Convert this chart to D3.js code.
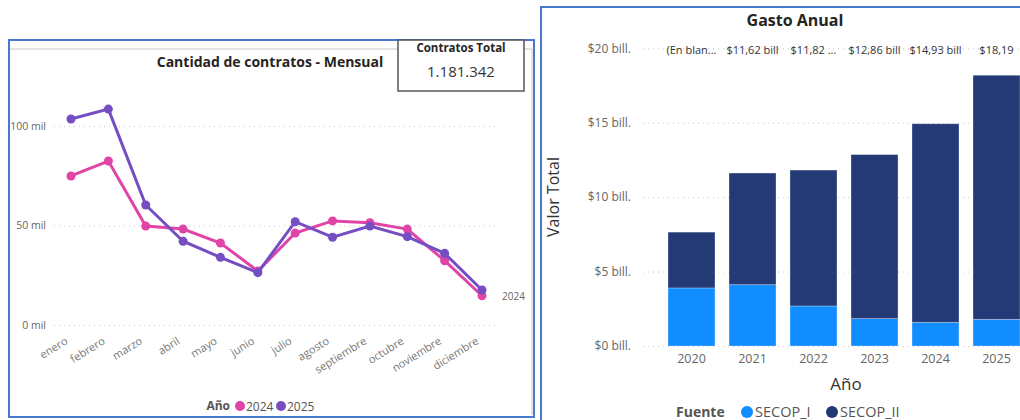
<!DOCTYPE html>
<html>
<head>
<meta charset="utf-8">
<script src="https://cdn.jsdelivr.net/npm/d3@7"></script>
<style>
  body { margin: 0; background: #fff; }
  svg text { font-family: "Open Sans", "Noto Sans", sans-serif; }
</style>
</head>
<body>
<div id="container"></div>
<script>
// monthly contracts
let months = ["enero", "febrero", "marzo", "abril", "mayo", "junio", "julio", "agosto", "septiembre", "octubre", "noviembre", "diciembre"];
let years = ["2024", "2025"];
let contratos2024 = [74900, 82400, 49700, 48200, 41200, 27100, 46200, 52300, 51400, 48200, 32300, 14700];
let contratos2025 = [103500, 108500, 60300, 42100, 34000, 26300, 51900, 44100, 49700, 44400, 36000, 17600];
let yTicksLeft = [0, 50000, 100000];

// annual spending (bill.)
let anios = ["2020", "2021", "2022", "2023", "2024", "2025"];
let fuentes = ["SECOP_I", "SECOP_II"];
let secop1 = [3.90, 4.12, 2.69, 1.84, 1.59, 1.79];
let secop2 = [3.75, 7.50, 9.13, 11.02, 13.34, 16.40];
let totalLabels = ["(En blan...", "$11,62 bill", "$11,82 ...", "$12,86 bill", "$14,93 bill", "$18,19"];
let yTicksRight = [0, 5, 10, 15, 20];

let colorMap = {
  "2024": "#E044A7",
  "2025": "#744EC2",
  "SECOP_I": "#118DFF",
  "SECOP_II": "#233A77"
};

let w = 1020;
let h = 420;

let viz = d3.select("#container")
  .append("svg")
  .attr("width", w)
  .attr("height", h)
  .style("background-color", "#fff");

// ---------- left panel ----------
viz.append("rect")
  .attr("x", 9).attr("y", 40).attr("width", 525).attr("height", 377)
  .attr("fill", "#fff").attr("stroke", "#4A78CF").attr("stroke-width", 2);
viz.append("line").attr("x1", 10).attr("x2", 532).attr("y1", 49).attr("y2", 49)
  .attr("stroke", "#c8c8c8");
viz.append("line").attr("x1", 532).attr("x2", 532).attr("y1", 49).attr("y2", 415)
  .attr("stroke", "#c8c8c8");

viz.append("text")
  .attr("x", 270).attr("y", 67)
  .attr("text-anchor", "middle")
  .attr("font-size", 14).attr("font-weight", "bold").attr("fill", "#252423")
  .text("Cantidad de contratos - Mensual");

let xL = d3.scalePoint().domain(months).range([71, 482]);
let yL = d3.scaleLinear().domain([0, 100000]).range([325, 126]);

let gyL = viz.append("g")
  .attr("transform", "translate(54,0)")
  .call(d3.axisLeft(yL).tickValues(yTicksLeft).tickSize(-441).tickPadding(8)
    .tickFormat(d => d / 1000 + " mil"));
gyL.select(".domain").remove();
gyL.selectAll("line").attr("stroke", "#c8c8c8").attr("stroke-dasharray", "1,4");
gyL.selectAll("text").attr("font-size", 10.5).attr("fill", "#666");

let gxL = viz.append("g")
  .attr("transform", "translate(0,332)")
  .call(d3.axisBottom(xL).tickSize(0).tickPadding(0));
gxL.select(".domain").remove();
gxL.selectAll("text")
  .attr("font-size", 11).attr("fill", "#777")
  .attr("text-anchor", "end")
  .attr("dy", 0)
  .attr("transform", "translate(-3,11) rotate(-32)");

let lineMaker = d3.line()
  .x((d, i) => xL(months[i]))
  .y(d => yL(d));

let series = [
  { year: "2024", values: contratos2024 },
  { year: "2025", values: contratos2025 }
];

series.forEach(s => {
  viz.append("path")
    .datum(s.values)
    .attr("fill", "none")
    .attr("stroke", colorMap[s.year])
    .attr("stroke-width", 3)
    .attr("d", lineMaker);
  viz.selectAll(".pt" + s.year)
    .data(s.values)
    .enter()
    .append("circle")
    .attr("cx", (d, i) => xL(months[i]))
    .attr("cy", d => yL(d))
    .attr("r", 4.5)
    .attr("fill", colorMap[s.year]);
});

viz.append("text")
  .attr("x", 502).attr("y", yL(contratos2024[11]) + 4)
  .attr("font-size", 10).attr("fill", "#666")
  .text("2024");

// legend left
let legL = viz.append("g").attr("transform", "translate(0,406)");
legL.append("text").attr("x", 230).attr("y", 4).attr("font-size", 12)
  .attr("text-anchor", "end")
  .attr("font-weight", "bold").attr("fill", "#555").text("Año");
let lx = 240;
years.forEach(y => {
  legL.append("circle").attr("cx", lx).attr("cy", 0).attr("r", 5).attr("fill", colorMap[y]);
  legL.append("text").attr("x", lx + 6).attr("y", 4.5).attr("font-size", 12)
    .attr("fill", "#555").text(y);
  lx += 41;
});

// card
viz.append("rect")
  .attr("x", 398).attr("y", 40).attr("width", 126).attr("height", 51)
  .attr("fill", "#fff").attr("stroke", "#555").attr("stroke-width", 1.5);
viz.append("text").attr("x", 461).attr("y", 52).attr("text-anchor", "middle")
  .attr("font-size", 11.5).attr("font-weight", "bold").attr("fill", "#252423")
  .text("Contratos Total");
viz.append("text").attr("x", 461).attr("y", 77).attr("text-anchor", "middle")
  .attr("font-size", 15).attr("fill", "#333")
  .text("1.181.342");

// ---------- right panel ----------
viz.append("rect")
  .attr("x", 541).attr("y", 7).attr("width", 500).attr("height", 430)
  .attr("fill", "#fff").attr("stroke", "#4A78CF").attr("stroke-width", 2);

viz.append("text")
  .attr("x", 795).attr("y", 26)
  .attr("text-anchor", "middle")
  .attr("font-size", 16).attr("font-weight", "bold").attr("fill", "#252423")
  .text("Gasto Anual");

let xR = d3.scaleBand().domain(anios).range([661, 1027]).paddingInner(0.23).paddingOuter(0.115);
let yR = d3.scaleLinear().domain([0, 20]).range([346, 48.3]);

let gyR = viz.append("g")
  .attr("transform", "translate(643,0)")
  .call(d3.axisLeft(yR).tickValues(yTicksRight).tickSize(-400).tickPadding(12)
    .tickFormat(d => "$" + d + " bill."));
gyR.select(".domain").remove();
gyR.selectAll("line").attr("stroke", "#c8c8c8").attr("stroke-dasharray", "1,4");
gyR.selectAll("text").attr("font-size", 12).attr("fill", "#666");

let stackData = anios.map((a, i) => ({ anio: a, SECOP_I: secop1[i], SECOP_II: secop2[i] }));
let stacked = d3.stack().keys(fuentes)(stackData);

viz.selectAll(".layer")
  .data(stacked)
  .enter()
  .append("g")
  .attr("fill", d => colorMap[d.key])
  .selectAll("rect")
  .data(d => d)
  .enter()
  .append("rect")
  .attr("x", d => xR(d.data.anio))
  .attr("y", d => yR(d[1]))
  .attr("width", xR.bandwidth())
  .attr("height", d => yR(d[0]) - yR(d[1]))
  .attr("stroke", "#ffffff")
  .attr("stroke-opacity", 0.35)
  .attr("stroke-width", 0.8);

// total labels
viz.selectAll(".totlab")
  .data(totalLabels)
  .enter()
  .append("text")
  .attr("x", (d, i) => xR(anios[i]) + xR.bandwidth() / 2)
  .attr("y", 54)
  .attr("text-anchor", "middle")
  .attr("font-size", 11).attr("fill", "#333")
  .text(d => d);

let gxR = viz.append("g")
  .attr("transform", "translate(0,350)")
  .call(d3.axisBottom(xR).tickSize(0).tickPadding(4));
gxR.select(".domain").remove();
gxR.selectAll("text").attr("font-size", 12.5).attr("fill", "#666");

viz.append("text").attr("x", 846).attr("y", 390).attr("text-anchor", "middle")
  .attr("font-size", 17).attr("fill", "#333").text("Año");
viz.append("text")
  .attr("transform", "translate(559,197) rotate(-90)")
  .attr("text-anchor", "middle")
  .attr("font-size", 16).attr("fill", "#333").text("Valor Total");

// legend right
let legR = viz.append("g").attr("transform", "translate(0,412)");
legR.append("text").attr("x", 676).attr("y", 5).attr("font-size", 14)
  .attr("font-weight", "bold").attr("fill", "#555").text("Fuente");
let rx = 747;
fuentes.forEach(f => {
  legR.append("circle").attr("cx", rx).attr("cy", 0).attr("r", 6).attr("fill", colorMap[f]);
  legR.append("text").attr("x", rx + 8).attr("y", 5).attr("font-size", 14.5)
    .attr("fill", "#555").text(f);
  rx += 85;
});
</script>
</body>
</html>
